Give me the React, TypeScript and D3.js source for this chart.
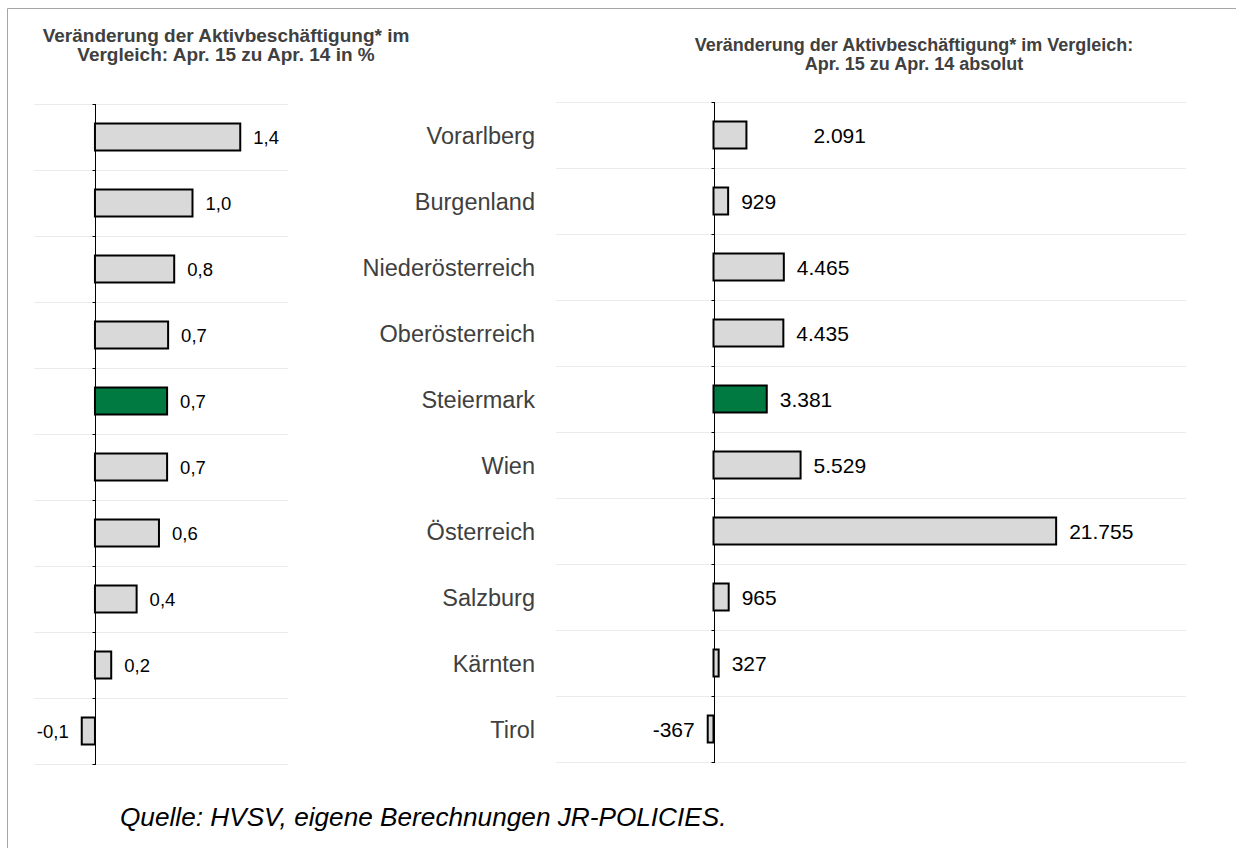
import React from 'react';
import * as d3 from 'd3';

const regions = ['Vorarlberg', 'Burgenland', 'Niederösterreich', 'Oberösterreich', 'Steiermark', 'Wien', 'Österreich', 'Salzburg', 'Kärnten', 'Tirol'];
const pctChange = [1.43, 0.96, 0.78, 0.72, 0.71, 0.71, 0.63, 0.41, 0.16, -0.13];
const absChange = [2091, 929, 4465, 4435, 3381, 5529, 21755, 965, 327, -367];
const highlighted = 'Steiermark';
const pctDomain = [-0.6, 1.9];
const absDomain = [-10000, 30000];
const titleLeft = ['Veränderung der Aktivbeschäftigung* im', 'Vergleich: Apr. 15 zu Apr. 14 in %'];
const titleRight = ['Veränderung der Aktivbeschäftigung* im Vergleich:', 'Apr. 15 zu Apr. 14 absolut'];
const source = 'Quelle: HVSV, eigene Berechnungen JR-POLICIES.';

const de = d3.formatLocale({ decimal: ',', thousands: '.', grouping: [3], currency: ['', ' €'], minus: '-' });
const fmtPct = de.format('.1f');
const fmtAbs = de.format(',d');

const FONT = '"Liberation Sans", Arial, sans-serif';
const GREY = '#d9d9d9';
const GREEN = '#017a41';

const Panel = ({ values, domain, x0, x1, y0, y1, fmt, fontSize, shiftFirst = 0 }) => {
    const x = d3.scaleLinear().domain(domain).range([x0, x1]);
    const rows = d3.scaleBand().domain(regions).range([y0, y1]);
    const step = rows.step();
    const barH = 27;
    const zero = Math.round(x(0)) + 0.5;

    const grid = d3.range(regions.length + 1).map(function(i) {
        const yy = Math.round(y0 + i * step) + 0.5;
        return (
            <g key={i}>
                <line x1={x0} x2={x1} y1={yy} y2={yy} stroke="#ebebeb" strokeWidth={1} />
                <line x1={zero - 3} x2={zero} y1={yy} y2={yy} stroke="#000" strokeWidth={1} />
            </g>
        );
    });

    const bars = regions.map(function(r, i) {
        const v = values[i];
        const cy = rows(r) + step / 2;
        const xs = Math.min(x(0), x(v)), w = Math.abs(x(v) - x(0));
        const pos = v >= 0;
        return (
            <g key={r}>
                <rect x={xs} y={cy - barH / 2} width={w} height={barH}
                    fill={r === highlighted ? GREEN : GREY} stroke="#000" strokeWidth={2} />
                <text x={pos ? x(v) + 13 + (i === 0 ? shiftFirst : 0) : x(v) - 13}
                    y={cy + fontSize * 0.36} fontSize={fontSize}
                    textAnchor={pos ? 'start' : 'end'} fill="#000">{fmt(v)}</text>
            </g>
        );
    });

    return (
        <g>
            {grid}
            <line x1={zero} x2={zero} y1={Math.round(y0)} y2={Math.round(y1) + 1} stroke="#000" strokeWidth={1} />
            {bars}
        </g>
    );
};

const App = () => {
    const rowsMid = d3.scaleBand().domain(regions).range([102, 762]);
    return (
        <svg width={1236} height={848} style={{ position: 'absolute', left: 0, top: 0 }} fontFamily={FONT}>
            <rect x={0} y={0} width={1236} height={848} fill="#fff" />
            <path d="M7.5,848V8.5H1236" fill="none" stroke="#a6a6a6" strokeWidth={1} />

            <g fontWeight="bold" fill="#404040" textAnchor="middle">
                <text x={226} y={42} fontSize={19}>{titleLeft[0]}</text>
                <text x={226} y={61} fontSize={19}>{titleLeft[1]}</text>
                <text x={914} y={51} fontSize={18}>{titleRight[0]}</text>
                <text x={914} y={70} fontSize={18}>{titleRight[1]}</text>
            </g>

            <Panel values={pctChange} domain={pctDomain} x0={34} x1={288} y0={104} y1={764}
                fmt={fmtPct} fontSize={18.5} />
            <Panel values={absChange} domain={absDomain} x0={556} x1={1186} y0={102} y1={762}
                fmt={fmtAbs} fontSize={21} shiftFirst={54} />

            {regions.map(function(r) {
                return (
                    <text key={r} x={535} y={rowsMid(r) + rowsMid.step() / 2 + 8.5}
                        fontSize={23.5} textAnchor="end" fill="#404040">{r}</text>
                );
            })}

            <text x={120} y={826} fontSize={26.2} fontStyle="italic" fill="#000">{source}</text>
        </svg>
    );
};

export default App;
